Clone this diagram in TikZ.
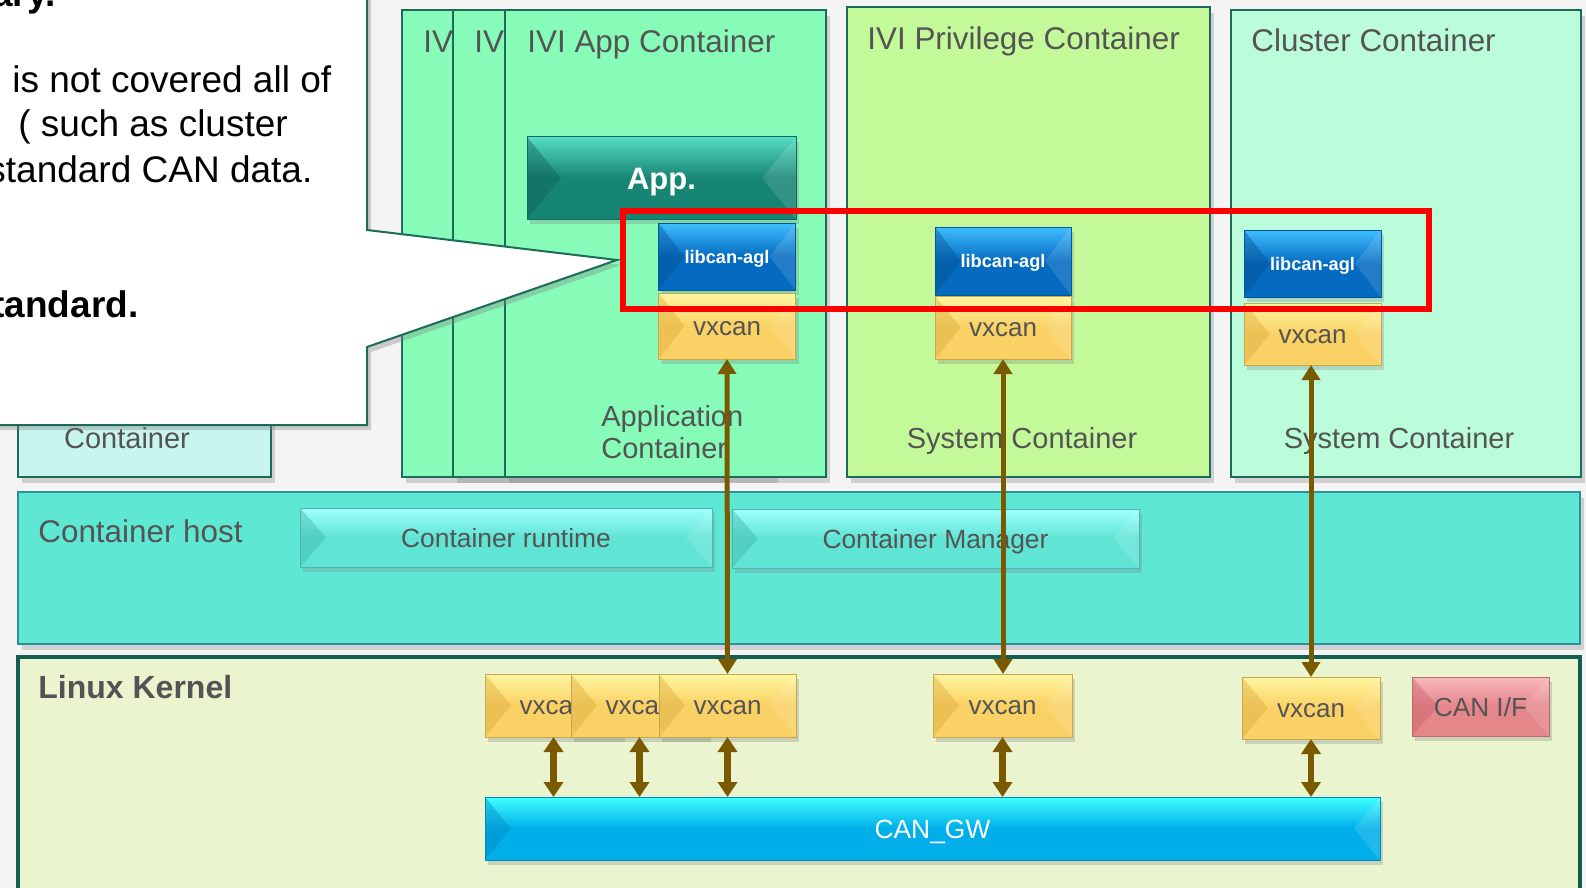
\documentclass[tikz,border=0pt]{standalone}
\usepackage{fontspec}
\setmainfont{Liberation Sans}
\usetikzlibrary{shadows,arrows.meta}
\definecolor{bg}{HTML}{F4F4F4}
\definecolor{txt}{HTML}{545454}
\definecolor{edge}{HTML}{1D6B5B}
\definecolor{appC}{HTML}{86FCB8}
\definecolor{privC}{HTML}{C4F99A}
\definecolor{clusC}{HTML}{BBFDDB}
\definecolor{leftC}{HTML}{C8F5EE}
\definecolor{hostC}{HTML}{5EE8D4}
\definecolor{hostE}{HTML}{2E8FA0}
\definecolor{kernC}{HTML}{EAF5CF}
\definecolor{kernE}{HTML}{135E52}
\definecolor{arrowC}{HTML}{7A5A00}
\definecolor{vxBase}{HTML}{FAD164}
\definecolor{vxLight}{HTML}{FFF6A0}
\definecolor{vxDark}{HTML}{D9A93A}
\definecolor{libBase}{HTML}{056BC0}
\definecolor{libLight}{HTML}{3FBEFF}
\definecolor{libDark}{HTML}{044F90}
\definecolor{appBase}{HTML}{178574}
\definecolor{appLight}{HTML}{55DCC4}
\definecolor{appDark}{HTML}{0E5E52}
\definecolor{rtBase}{HTML}{60E4D4}
\definecolor{rtLight}{HTML}{A0FFFF}
\definecolor{rtDark}{HTML}{3DB0A8}
\definecolor{gwBase}{HTML}{00AEEA}
\definecolor{gwLight}{HTML}{40FFFF}
\definecolor{gwDark}{HTML}{0088C0}
\definecolor{ifBase}{HTML}{E5868B}
\definecolor{ifLight}{HTML}{F8B8BC}
\definecolor{ifDark}{HTML}{C86068}
\def\bvinset{13pt}
\tikzset{
  bvin/.store in=\bvinset,
  bevel/.style n args={3}{
    inner sep=0pt, outer sep=0pt, draw=#1!80!black, line width=0.5pt,
    drop shadow={opacity=0.3, shadow xshift=1.5pt, shadow yshift=-2.5pt},
    path picture={
      \fill[top color=#2, bottom color=#1, middle color=#1]
        (path picture bounding box.north west) rectangle (path picture bounding box.south east);
      \fill[#3, opacity=0.4] (path picture bounding box.north west)
        -- ([xshift=\bvinset]path picture bounding box.west)
        -- (path picture bounding box.south west) -- cycle;
      \fill[white, opacity=0.12] (path picture bounding box.north east)
        -- ([xshift=-\bvinset]path picture bounding box.east)
        -- (path picture bounding box.south east) -- cycle;
    }
  },
  ctr/.style={draw=edge, line width=1pt, inner sep=0pt, outer sep=0pt,
    drop shadow={opacity=0.3, shadow xshift=2pt, shadow yshift=-3pt}},
  ttl/.style={text=txt, inner sep=0pt, font=\fontsize{15.7pt}{18pt}\selectfont},
  sub/.style={text=txt, inner sep=0pt, font=\fontsize{14.5pt}{17pt}\selectfont},
  vxbox/.style={bevel={vxBase}{vxLight}{vxDark}, minimum width=68.5pt, minimum height=32pt,
    text=txt, font=\fontsize{13pt}{15pt}\selectfont, text height=9.3pt, text depth=0pt},
  libbox/.style={bevel={libBase}{libLight}{libDark}, minimum width=68.5pt, minimum height=33.5pt,
    text=white, font=\bfseries\fontsize{9.1pt}{11pt}\selectfont, text height=6.6pt, text depth=0pt},
  rtbox/.style={bevel={rtBase}{rtLight}{rtDark}, minimum width=205pt, minimum height=29.5pt,
    text=txt, font=\fontsize{13.2pt}{15pt}\selectfont, text height=9.8pt, text depth=0pt},
  arr/.style={arrowC, line width=2.5pt,
    {Triangle[width=9pt,length=7.5pt]}-{Triangle[width=9pt,length=7.5pt]}},
  sarr/.style={arrowC, line width=3.3pt,
    {Triangle[width=9.5pt,length=7.5pt]}-{Triangle[width=9.5pt,length=7.5pt]}},
  coText/.style={text=black, inner sep=0pt, anchor=base west, font=\fontsize{18.5pt}{22pt}\selectfont},
}
\begin{document}
\begin{tikzpicture}[x=0.5pt,y=-0.5pt]
\path[use as bounding box, fill=bg] (0,0) rectangle (1586,888);
\begin{scope}
\clip (0,0) rectangle (1586,888);

% ---- containers ----
\node[ctr, fill=leftC, minimum width=126.5pt, minimum height=233.5pt] (leftbox) at (144.5,243.5) {};
\node[sub, anchor=base] (leftlbl) at (127,448) {Container};

\node[ctr, fill=appC, minimum width=160.5pt, minimum height=233.5pt] (ivi1) at (562.5,243.5) {};
\node[ttl, anchor=base west] (ivi1t) at (423,53) {IV};
\node[ctr, fill=appC, minimum width=160.5pt, minimum height=233.5pt] (ivi2) at (613.5,243.5) {};
\node[ttl, anchor=base west] (ivi2t) at (474,53) {IV};
\node[ctr, fill=appC, minimum width=160.5pt, minimum height=233.5pt] (ivi3) at (665.5,243.5) {};
\node[ttl, anchor=base west] (ivi3t) at (527,53) {IVI App Container};
\node[sub, anchor=base west] (appl1) at (601,426) {Application};
\node[sub, anchor=base west] (appl2) at (601,458) {Container};

\node[ctr, fill=privC, minimum width=181.5pt, minimum height=235pt] (priv) at (1028.5,242) {};
\node[ttl, anchor=base west] (privt) at (867,50) {IVI Privilege Container};
\node[sub, anchor=base] (privs) at (1022,448) {System Container};

\node[ctr, fill=clusC, minimum width=175pt, minimum height=233.5pt] (clus) at (1406,243.5) {};
\node[ttl, anchor=base west] (clust) at (1251,52) {Cluster Container};
\node[sub, anchor=base] (cluss) at (1399,448) {System Container};

\node[ctr, draw=hostE, fill=hostC, minimum width=781pt, minimum height=76pt] (host) at (799,568) {};
\node[ttl, anchor=base west] (hostt) at (38,542) {Container host};

\node[draw=kernE, line width=2pt, fill=kernC, inner sep=0pt, minimum width=781pt, minimum height=126.5pt] (kern) at (799,783.5) {};
\node[ttl, anchor=base west, font=\bfseries\fontsize{16pt}{18pt}\selectfont] (kernt) at (38,698) {Linux Kernel};

% ---- components in containers ----
\node[bevel={appBase}{appLight}{appDark}, bvin=17pt, minimum width=134.5pt, minimum height=41pt,
  text=white, font=\bfseries\fontsize{15.5pt}{18pt}\selectfont, text height=11.4pt, text depth=0pt] (app) at (661.5,178) {App.};
\node[libbox] (libA) at (727,256.5) {libcan-agl};
\node[vxbox, minimum height=33pt] (vxA) at (727,326) {vxcan};
\node[libbox, minimum width=68pt, minimum height=34pt] (libP) at (1003,261) {libcan-agl};
\node[vxbox, minimum width=68pt, minimum height=31.5pt] (vxP) at (1003,327.5) {vxcan};
\node[libbox] (libC) at (1312.5,263.5) {libcan-agl};
\node[vxbox, minimum height=31pt] (vxC) at (1312.5,334) {vxcan};

% ---- container host ----
\node[rtbox, minimum width=206pt] (rt) at (506,537.5) {Container runtime};
\node[rtbox, minimum width=203.5pt] (cm) at (935.5,538.5) {Container Manager};

% ---- kernel ----
\node[vxbox, minimum height=31.5pt] (kvx1) at (553.5,705.5) {vxcan};
\node[vxbox, minimum height=31.5pt] (kvx2) at (639.5,705.5) {vxcan};
\node[vxbox, minimum height=31.5pt] (kvx3) at (727.5,705.5) {vxcan};
\node[vxbox, minimum width=69.5pt, minimum height=31.5pt] (kvxP) at (1002.5,705.5) {vxcan};
\node[vxbox, minimum width=69pt, minimum height=31pt] (kvxC) at (1311,708) {vxcan};
\node[bevel={ifBase}{ifLight}{ifDark}, minimum width=68.5pt, minimum height=29.5pt,
  text=txt, font=\fontsize{13.1pt}{15pt}\selectfont, text height=9.6pt, text depth=0pt] (canif) at (1480.5,706.5) {CAN I/F};
\node[bevel={gwBase}{gwLight}{gwDark}, minimum width=447.5pt, minimum height=31.5pt,
  text=white, font=\fontsize{13.2pt}{15pt}\selectfont, text height=10pt, text depth=0pt] (gw) at (932.5,828.5) {CAN\_GW};

% ---- connectors ----
\draw[arr] (vxA.south) -- (kvx3.north);
\draw[arr] (vxP.south) -- (vxP.south |- kvxP.north);
\draw[arr] (vxC.south -| kvxC.north) -- (kvxC.north);
\draw[sarr] (kvx1.south) -- (kvx1.south |- gw.north);
\draw[sarr] (kvx2.south) -- (kvx2.south |- gw.north);
\draw[sarr] (kvx3.south) -- (kvx3.south |- gw.north);
\draw[sarr] (kvxP.south) -- (kvxP.south |- gw.north);
\draw[sarr] (kvxC.south) -- (kvxC.south |- gw.north);

% ---- highlight ----
\node[draw=red, line width=3pt, inner sep=0pt, minimum width=403pt, minimum height=49pt] (redbox) at (1026,260) {};

% ---- callout ----
\coordinate (c1) at (-20,-20);
\coordinate (c2) at (367,-20);
\coordinate (c3) at (367,230);
\coordinate (c4) at (367,347);
\coordinate (c5) at (367,425);
\coordinate (c6) at (-20,425);
\path[fill=white, draw=edge, line width=1pt, drop shadow={opacity=0.35, shadow xshift=2pt, shadow yshift=-2.5pt}]
  (c1) -- (c2) -- (c3) -- ([xshift=-1.5pt]redbox.west) -- (c4) -- (c5) -- (c6) -- cycle;
\node[coText, font=\bfseries\fontsize{18.5pt}{22pt}\selectfont] (ct0) at (-8,7) {ary.};
\node[coText] (ct1) at (12,93) {is not covered all of};
\node[coText] (ct2) at (18,137) {( such as cluster};
\node[coText] (ct3) at (-13,183) {standard CAN data.};
\node[coText, font=\bfseries\fontsize{18.5pt}{22pt}\selectfont] (ct4) at (-8,317) {tandard.};
\end{scope}
\end{tikzpicture}
\end{document}
